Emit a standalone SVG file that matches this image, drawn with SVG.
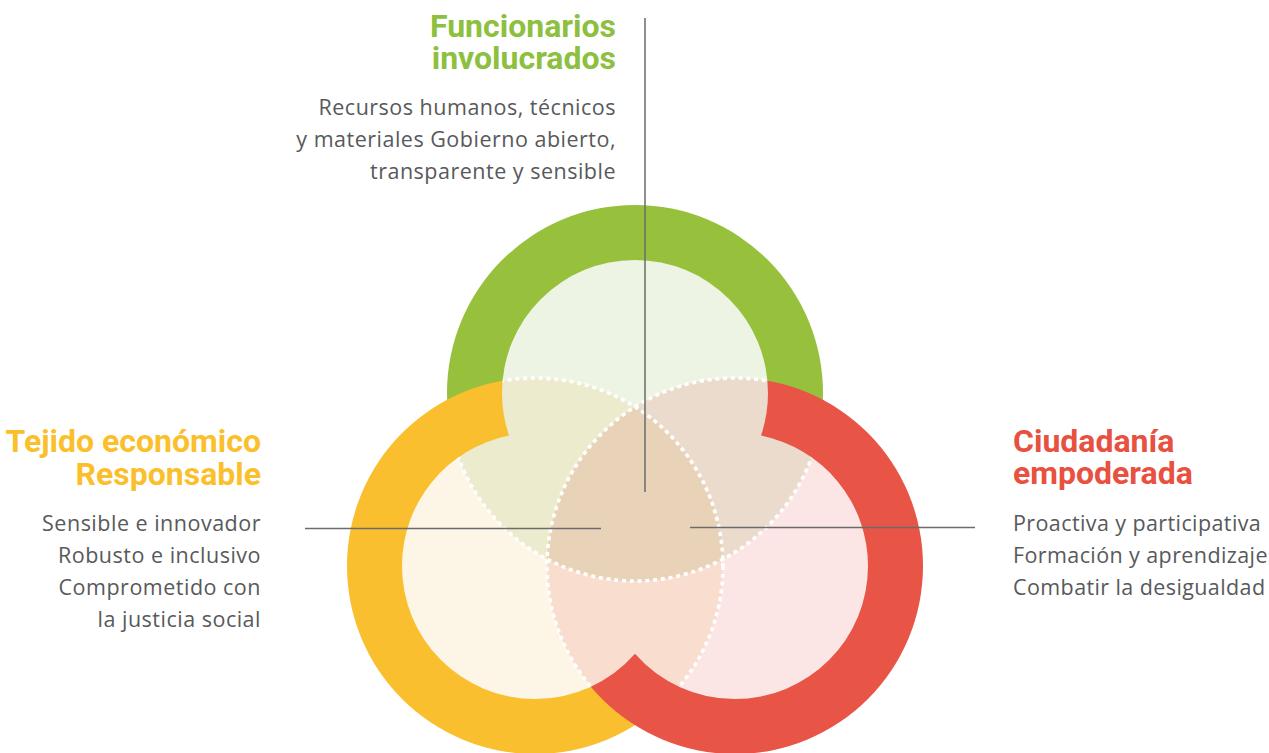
<svg xmlns="http://www.w3.org/2000/svg" width="1269" height="753" viewBox="0 0 1269 753">
<style>
.title{font-family:Roboto,"Liberation Sans",sans-serif;font-weight:700;font-size:32px}
.body{font-family:"Open Sans","Noto Sans",sans-serif;font-size:21.5px;letter-spacing:0.5px;fill:#58595b}
.tight{letter-spacing:0.4px}
.tint{mix-blend-mode:multiply}
.dot{fill:none;stroke:#fff;stroke-width:3.6;stroke-dasharray:4 3.8}
.conn{stroke:#6b6b6b;stroke-width:1.5;fill:none}
</style>
<defs>
<clipPath id="innerUnion">
<circle cx="635" cy="393" r="133"/>
<circle cx="535" cy="566" r="133"/>
<circle cx="735" cy="566" r="133"/>
</clipPath>
</defs>
<rect width="1269" height="753" fill="#fff"/>
<g id="rings">
<circle id="ring-green" cx="635" cy="393" r="188" fill="#97c13c"/>
<circle id="ring-orange" cx="535" cy="566" r="188" fill="#f9bf2e"/>
<circle id="ring-red" cx="735" cy="566" r="188" fill="#e85446"/>
</g>
<g id="inner" clip-path="url(#innerUnion)">
<rect x="300" y="200" width="670" height="553" fill="#fff"/>
<circle class="tint" cx="635" cy="393" r="188" fill="#eef4e4"/>
<circle class="tint" cx="535" cy="566" r="188" fill="#fdf6e6"/>
<circle class="tint" cx="735" cy="566" r="188" fill="#fbe5e5"/>
<circle class="dot" cx="635" cy="393" r="188"/>
<circle class="dot" cx="535" cy="566" r="188"/>
<circle class="dot" cx="735" cy="566" r="188"/>
</g>
<g id="connectors">
<line class="conn" x1="645" y1="18" x2="645" y2="492"/>
<line class="conn" x1="305" y1="528.5" x2="601" y2="528.5"/>
<line class="conn" x1="690" y1="527.5" x2="975" y2="527.5"/>
</g>
<g id="node-funcionarios">
<text class="title" fill="#8dc03f" text-anchor="end" x="616" y="37">Funcionarios</text>
<text class="title" fill="#8dc03f" text-anchor="end" x="616" y="69">involucrados</text>
<text class="body" text-anchor="end" x="616" y="115">Recursos humanos, técnicos</text>
<text class="body" text-anchor="end" x="616" y="147">y materiales Gobierno abierto,</text>
<text class="body" text-anchor="end" x="616" y="179">transparente y sensible</text>
</g>
<g id="node-tejido">
<text class="title" fill="#fbbf2c" text-anchor="end" x="261" y="452">Tejido económico</text>
<text class="title" fill="#fbbf2c" text-anchor="end" x="261" y="485">Responsable</text>
<text class="body" text-anchor="end" x="261" y="531">Sensible e innovador</text>
<text class="body" text-anchor="end" x="261" y="563">Robusto e inclusivo</text>
<text class="body" text-anchor="end" x="261" y="595">Comprometido con</text>
<text class="body" text-anchor="end" x="261" y="627">la justicia social</text>
</g>
<g id="node-ciudadania">
<text class="title" fill="#e8503f" x="1013" y="452">Ciudadanía</text>
<text class="title" fill="#e8503f" x="1013" y="484">empoderada</text>
<text class="body tight" x="1013" y="531">Proactiva y participativa</text>
<text class="body tight" x="1013" y="563">Formación y aprendizaje</text>
<text class="body tight" x="1013" y="595">Combatir la desigualdad</text>
</g>
</svg>
